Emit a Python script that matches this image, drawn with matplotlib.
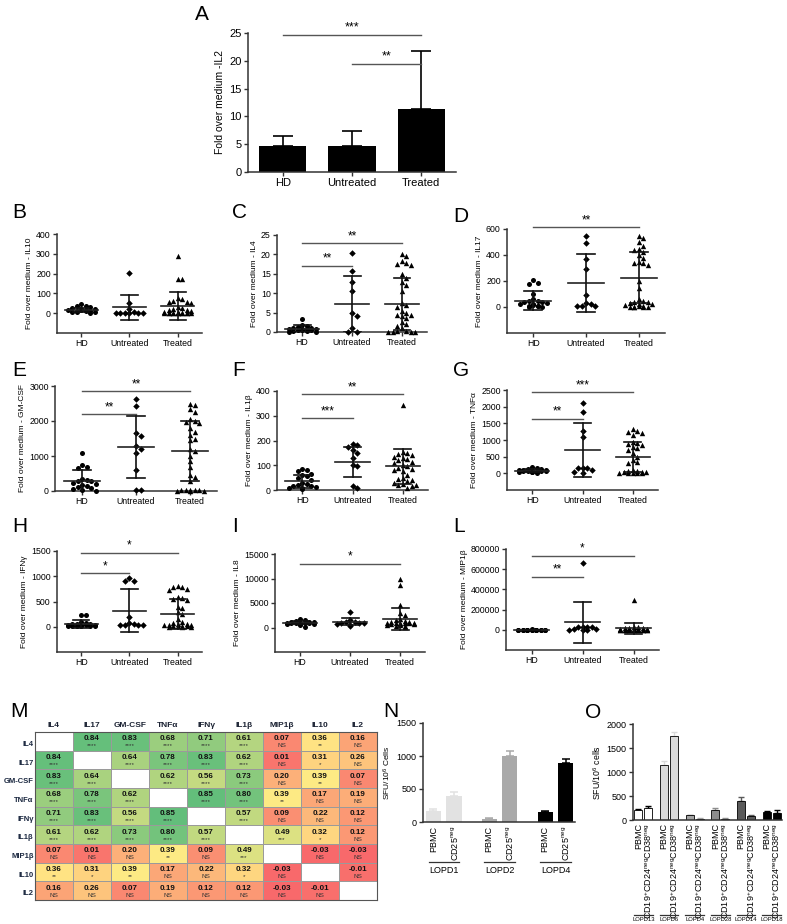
import numpy as np
import matplotlib
matplotlib.use('Agg')
import matplotlib.pyplot as plt
import matplotlib.transforms as mtransforms
from matplotlib.colors import LinearSegmentedColormap, TwoSlopeNorm

plt.rcParams['font.family'] = ['Liberation Sans', 'DejaVu Sans']
plt.rcParams['mathtext.fontset'] = 'custom'
plt.rcParams['mathtext.rm'] = 'Liberation Sans'
plt.rcParams['mathtext.it'] = 'Liberation Sans:italic'
plt.rcParams['mathtext.bf'] = 'Liberation Sans:bold'

W, H = 787, 924
groups = ['HD', 'Untreated', 'Treated']

# ---------------------------------------------------------------- A: IL2 bars
il2_mean = [4.7, 4.7, 11.3]
il2_sd = [1.8, 2.7, 10.5]
il2_brackets = [(0, 2, 24.6, '***'), (1, 2, 19.4, '**')]

# ---------------------------------------------------------------- B..L: dot plots
il10_hd = [48, 38, 35, 30, 25, 22, 20, 18, 15, 15, 12, 10, 10, 8, 5, 5, 2]
il10_untr = [203, 50, 20, 5, 2, 0, 0, 0, 0, 0]
il10_tr = [290, 175, 172, 75, 70, 62, 58, 55, 50, 30, 25, 20, 18, 15, 10, 8, 5, 3, 2, 0, 0, 0, 0, 0, 0, 0, 0, 0, 0]
il10_mean = [14, 30, 37]
il10_sd = [10, 62, 70]
il10_brackets = []

il4_hd = [3.4, 1.8, 1.5, 1.3, 1.1, 1.0, 0.9, 0.9, 0.8, 0.7, 0.6, 0.5, 0.4, 0.3, 0.2, 0.1, 0.1]
il4_untr = [20.4, 15.8, 13.0, 10.5, 5.0, 4.2, 1.1, 0.1, 0.1]
il4_tr = [20.0, 19.5, 18.4, 17.8, 17.5, 17.3, 15.0, 14.0, 13.0, 12.0, 10.5, 7.5, 7.0, 6.5, 5.5, 5.0,
          4.5, 4.5, 4.0, 3.5, 2.5, 2.0, 1.5, 1.0, 0.3, 0.2, 0.1, 0.1, 0.1, 0.0]
il4_mean = [0.9, 7.3, 7.2]
il4_sd = [0.8, 7.2, 6.8]
il4_brackets = [(0, 1, 17.1, '**'), (0, 2, 22.9, '**')]

il17_hd = [205, 185, 175, 100, 60, 50, 45, 40, 35, 30, 25, 20, 15, 10, 8, 5, 3, 0]
il17_untr = [545, 490, 370, 295, 90, 30, 20, 5, 5, 5]
il17_tr = [545, 530, 500, 470, 450, 440, 420, 400, 380, 345, 340, 335, 320, 200, 150, 60, 50, 40, 35,
           30, 25, 20, 15, 10, 5, 0, 0, 0, 0, 0]
il17_mean = [48, 185, 225]
il17_sd = [72, 220, 195]
il17_brackets = [(0, 2, 613, '**')]

gmcsf_hd = [1080, 750, 680, 650, 330, 320, 300, 290, 230, 200, 180, 150, 120, 100, 60, 30, 10]
gmcsf_untr = [2620, 2420, 1660, 1580, 1280, 1200, 1100, 600, 30, 20]
gmcsf_tr = [2500, 2450, 2350, 2250, 2050, 2000, 1980, 1950, 1800, 1700, 1600, 1500, 1450, 1200, 1150,
            1000, 850, 700, 450, 400, 300, 30, 25, 20, 15, 15, 10, 10, 5]
gmcsf_mean = [300, 1250, 1140]
gmcsf_sd = [300, 880, 860]
gmcsf_brackets = [(0, 1, 2200, '**'), (0, 2, 2850, '**')]

il1b_hd = [85, 80, 75, 65, 60, 55, 50, 40, 30, 25, 20, 15, 15, 12, 10, 8, 5]
il1b_untr = [185, 180, 175, 160, 150, 130, 100, 95, 15, 8]
il1b_tr = [345, 155, 150, 145, 140, 135, 130, 125, 120, 115, 110, 100, 95, 90, 85, 80, 75, 60, 50,
           45, 40, 35, 30, 25, 20, 20, 15, 10]
il1b_mean = [35, 112, 95]
il1b_sd = [25, 60, 70]
il1b_brackets = [(0, 1, 291, '***'), (0, 2, 388, '**')]

tnfa_hd = [180, 150, 130, 120, 110, 100, 95, 90, 85, 80, 75, 70, 60, 50, 40, 30, 20]
tnfa_untr = [2120, 1830, 1260, 1100, 170, 160, 150, 110, 30, 20]
tnfa_tr = [1320, 1280, 1250, 1200, 1150, 950, 900, 880, 850, 800, 750, 700, 600, 500, 400, 350, 300,
           100, 80, 60, 50, 40, 30, 20, 10, 10, 5, 5]
tnfa_mean = [80, 690, 500]
tnfa_sd = [40, 810, 450]
tnfa_brackets = [(0, 1, 1635, '**'), (0, 2, 2440, '***')]

ifng_hd = [240, 240, 100, 80, 60, 50, 45, 40, 35, 30, 25, 20, 15, 10, 10, 5, 5]
ifng_untr = [960, 910, 910, 200, 70, 50, 40, 30, 30, 30]
ifng_tr = [800, 790, 780, 750, 720, 580, 560, 550, 520, 400, 380, 300, 250, 150, 100, 80, 60, 50, 40,
           30, 25, 20, 15, 10, 5, 0, 0, -10]
ifng_mean = [55, 315, 245]
ifng_sd = [75, 425, 295]
ifng_brackets = [(0, 1, 1060, '*'), (0, 2, 1465, '*')]

il8_hd = [1700, 1500, 1300, 1200, 1100, 1050, 1000, 1000, 950, 900, 900, 850, 800, 800, 700, 600, 200]
il8_untr = [3100, 1500, 1200, 1100, 1000, 1000, 900, 800, 600, 400]
il8_tr = [10000, 8700, 4500, 3000, 2500, 1800, 1500, 1300, 1200, 1100, 1000, 1000, 950, 900, 900,
          850, 800, 800, 700, 600, 500, 400, 300, 200]
il8_mean = [950, 1150, 1700]
il8_sd = [300, 700, 2300]
il8_brackets = [(0, 2, 13000, '*')]

mip_hd = [3000, 2500, 2000, 1500, 1500, 1000, 1000, 800, 600, 500, 400, 300, 200, 100, 100, 50, 0]
mip_untr = [660000, 30000, 30000, 30000, 25000, 5000, 3000, 2000, 2000, 1000]
mip_tr = [295000, 30000, 25000, 20000, 15000, 15000, 10000, 10000, 5000, 5000, 3000, 2000, 2000, 1000,
          1000, 1000, 500, 500, 500, 0, 0, 0, 0, 0, 0]
mip_mean = [1000, 75000, 15000]
mip_sd = [1000, 205000, 57000]
mip_brackets = [(0, 1, 526000, '**'), (0, 2, 734000, '*')]

# ---------------------------------------------------------------- M: correlation heatmap
cytokines = ['IL4', 'IL17', 'GM-CSF', 'TNF\u03b1', 'IFN\u03b3', 'IL1\u03b2', 'MIP1\u03b2', 'IL10', 'IL2']
corr = [
    [None, 0.84, 0.83, 0.68, 0.71, 0.61, 0.07, 0.36, 0.16],
    [0.84, None, 0.64, 0.78, 0.83, 0.62, 0.01, 0.31, 0.26],
    [0.83, 0.64, None, 0.62, 0.56, 0.73, 0.20, 0.39, 0.07],
    [0.68, 0.78, 0.62, None, 0.85, 0.80, 0.39, 0.17, 0.19],
    [0.71, 0.83, 0.56, 0.85, None, 0.57, 0.09, 0.22, 0.12],
    [0.61, 0.62, 0.73, 0.80, 0.57, None, 0.49, 0.32, 0.12],
    [0.07, 0.01, 0.20, 0.39, 0.09, 0.49, None, -0.03, -0.03],
    [0.36, 0.31, 0.39, 0.17, 0.22, 0.32, -0.03, None, -0.01],
    [0.16, 0.26, 0.07, 0.19, 0.12, 0.12, -0.03, -0.01, None],
]
signif = [
    ['', '****', '****', '****', '****', '****', 'NS', '**', 'NS'],
    ['****', '', '****', '****', '****', '****', 'NS', '*', 'NS'],
    ['****', '****', '', '****', '****', '****', 'NS', '**', 'NS'],
    ['****', '****', '****', '', '****', '****', '**', 'NS', 'NS'],
    ['****', '****', '****', '****', '', '****', 'NS', 'NS', 'NS'],
    ['****', '****', '****', '****', '****', '', '***', '*', 'NS'],
    ['NS', 'NS', 'NS', '**', 'NS', '***', '', 'NS', 'NS'],
    ['**', '*', '**', 'NS', 'NS', '*', 'NS', '', 'NS'],
    ['NS', 'NS', 'NS', 'NS', 'NS', 'NS', 'NS', 'NS', ''],
]

# ---------------------------------------------------------------- N, O: ELISpot bars
n_patients = ['LOPD1', 'LOPD2', 'LOPD4']
n_pbmc = [170, 50, 155]
n_pbmc_err = [22, 15, 8]
n_cd25 = [390, 1005, 890]
n_cd25_err = [70, 75, 60]
n_colors = ['#e2e2e2', '#a9a9a9', '#000000']

o_patients = ['LOPD13', 'LOPD6', 'LOPD4', 'LOPD28', 'LOPD14', 'LOPD18']
o_pbmc = [215, 1140, 100, 210, 390, 175]
o_pbmc_err = [20, 80, 10, 40, 80, 5]
o_cd19 = [245, 1740, 30, 30, 90, 150]
o_cd19_err = [55, 100, 10, 15, 20, 50]
o_colors = ['#ffffff', '#d9d9d9', '#a3a3a3', '#8c8c8c', '#5a5a5a', '#000000']


# ----------------------------------------------------------------------------------------------------------------------
def box(l, t, r, b):
    return [l / W, 1 - b / H, (r - l) / W, (b - t) / H]


def letter(fig, x, y, s):
    fig.text(x / W, 1 - y / H, s, fontsize=15, ha='left', va='top')


def style_axes(ax, fs=6.5):
    for sp in ['top', 'right']:
        ax.spines[sp].set_visible(False)
    for sp in ['left', 'bottom']:
        ax.spines[sp].set_linewidth(1.1)
        ax.spines[sp].set_color('#333333')
    ax.tick_params(axis='both', direction='out', length=3, width=1, labelsize=fs, pad=1.5, color='#333333')


def swarm(vals, yscale, xscale, diam=5.0, maxoff=17.0):
    vals = np.asarray(vals, dtype=float)
    cands = [0.0]
    k = 1
    while k * diam * 0.9 <= maxoff:
        cands += [k * diam * 0.9, -k * diam * 0.9]
        k += 1
    placed = []
    xs = np.zeros(len(vals))
    for idx in np.argsort(-vals, kind='stable'):
        y = vals[idx] * yscale
        pos, best_cnt = None, None
        for c in cands:
            cnt = sum(1 for (px, py) in placed if abs(px - c) < diam * 0.9 and abs(py - y) < diam)
            if cnt == 0:
                pos = c
                break
            if best_cnt is None or cnt < best_cnt:
                best_cnt, pos = cnt, c
        placed.append((pos, y))
        xs[idx] = pos / xscale
    return xs


def brackets(ax, items, ylim, fs=9):
    off = (ylim[1] - ylim[0]) * 0.01
    for i, j, y, lab in items:
        ax.plot([i, j], [y, y], color='#555555', lw=1.0, clip_on=False, zorder=2)
        ax.text((i + j) / 2, y + off, lab, ha='center', va='bottom', fontsize=fs, clip_on=False)


def dot_panel(ax, rect, data, means, sds, ylim, yticks, ylabel, brk):
    markers = ['o', 'D', '^']
    sizes = [13, 11, 15]
    ax_w = rect[2] * W
    ax_h = rect[3] * H
    xscale = ax_w / 3.0
    yscale = ax_h / (ylim[1] - ylim[0])
    for i, vals in enumerate(data):
        xs = swarm(vals, yscale, xscale)
        ax.scatter(i + xs, vals, marker=markers[i], s=sizes[i], c='black', linewidths=0, zorder=3,
                   clip_on=False)
        m, s = means[i], sds[i]
        ax.plot([i - 0.34, i + 0.34], [m, m], color='#222222', lw=1.2, zorder=4)
        ax.plot([i, i], [max(m - s, ylim[0]), m + s], color='#111111', lw=1.2, zorder=4)
        ax.plot([i - 0.17, i + 0.17], [m + s, m + s], color='#111111', lw=1.2, zorder=4)
        if m - s > ylim[0]:
            ax.plot([i - 0.17, i + 0.17], [m - s, m - s], color='#111111', lw=1.2, zorder=4)
    ax.set_xlim(-0.5, 2.5)
    ax.set_ylim(*ylim)
    ax.set_yticks(yticks)
    ax.set_xticks([0, 1, 2])
    ax.set_xticklabels(groups)
    ax.set_ylabel(ylabel, fontsize=6, labelpad=2)
    style_axes(ax, 6.3)
    brackets(ax, brk, ylim, fs=8.5)


# ----------------------------------------------------------------------------------------------------------------------
fig = plt.figure(figsize=(W / 100, H / 100), dpi=100)

# A
rect = box(248, 33, 456, 172)
ax = fig.add_axes(rect)
x = np.arange(3)
ax.bar(x, il2_mean, width=0.68, color='black', zorder=2)
ax.errorbar(x, il2_mean, yerr=[np.zeros(3), il2_sd], fmt='none', ecolor='black', elinewidth=1.2,
            capsize=7, capthick=1.2, zorder=1)
ax.set_xlim(-0.5, 2.5)
ax.set_ylim(0, 25)
ax.set_yticks([0, 5, 10, 15, 20, 25])
ax.set_xticks(x)
ax.set_xticklabels(groups)
ax.set_ylabel('Fold over medium -IL2', fontsize=7.5, labelpad=3)
style_axes(ax, 8)
brackets(ax, il2_brackets, (0, 25), fs=9)
letter(fig, 195, 5, 'A')

# B..L
dot_specs = [
    ('B', (12, 203), (57, 234, 202, 333), [il10_hd, il10_untr, il10_tr], il10_mean, il10_sd,
     (-100, 400), [0, 100, 200, 300, 400], 'Fold over medium - IL10', il10_brackets),
    ('C', (232, 203), (277, 235, 427, 332), [il4_hd, il4_untr, il4_tr], il4_mean, il4_sd,
     (0, 25), [0, 5, 10, 15, 20, 25], 'Fold over medium - IL4', il4_brackets),
    ('D', (453, 207), (507, 229, 665, 333), [il17_hd, il17_untr, il17_tr], il17_mean, il17_sd,
     (-200, 600), [0, 200, 400, 600], 'Fold over medium - IL17', il17_brackets),
    ('E', (12, 361), (55, 386, 217, 491), [gmcsf_hd, gmcsf_untr, gmcsf_tr], gmcsf_mean, gmcsf_sd,
     (0, 3000), [0, 1000, 2000, 3000], 'Fold over medium - GM-CSF', gmcsf_brackets),
    ('F', (232, 361), (277, 391, 428, 490), [il1b_hd, il1b_untr, il1b_tr], il1b_mean, il1b_sd,
     (0, 400), [0, 100, 200, 300, 400], 'Fold over medium - IL1\u03b2', il1b_brackets),
    ('G', (453, 361), (507, 390, 658, 490), [tnfa_hd, tnfa_untr, tnfa_tr], tnfa_mean, tnfa_sd,
     (-500, 2500), [0, 500, 1000, 1500, 2000, 2500], 'Fold over medium - TNF\u03b1', tnfa_brackets),
    ('H', (12, 517), (57, 551, 202, 652), [ifng_hd, ifng_untr, ifng_tr], ifng_mean, ifng_sd,
     (-500, 1500), [0, 500, 1000, 1500], 'Fold over medium - IFN\u03b3', ifng_brackets),
    ('I', (232, 517), (275, 554, 425, 652), [il8_hd, il8_untr, il8_tr], il8_mean, il8_sd,
     (-5000, 15000), [0, 5000, 10000, 15000], 'Fold over medium - IL8', il8_brackets),
    ('L', (453, 517), (506, 549, 659, 650), [mip_hd, mip_untr, mip_tr], mip_mean, mip_sd,
     (-200000, 800000), [0, 200000, 400000, 600000, 800000], 'Fold over medium - MIP1\u03b2', mip_brackets),
]
for lab, lpos, px, data, means, sds, ylim, yticks, ylabel, brk in dot_specs:
    rect = box(*px)
    ax = fig.add_axes(rect)
    dot_panel(ax, rect, data, means, sds, ylim, yticks, ylabel, brk)
    letter(fig, lpos[0], lpos[1], lab)

# M heatmap
ax = fig.add_axes(box(35, 732, 377, 900))
vals = np.array([[np.nan if v is None else v for v in row] for row in corr])
cmap = LinearSegmentedColormap.from_list('ryg', ['#F8696B', '#FFEB84', '#63BE7B'])
cmap.set_bad('white')
norm = TwoSlopeNorm(vmin=-0.03, vcenter=0.385, vmax=0.85)
ax.pcolormesh(np.ma.masked_invalid(vals), cmap=cmap, norm=norm, edgecolors='#9a9a9a', linewidth=0.6)
ax.set_xlim(0, 9)
ax.set_ylim(9, 0)
for r in range(9):
    for c in range(9):
        if corr[r][c] is None:
            continue
        ax.text(c + 0.5, r + 0.36, f'{corr[r][c]:.2f}', ha='center', va='center', fontsize=5.8,
                fontweight='bold', color='#111111')
        ax.text(c + 0.5, r + 0.74, signif[r][c], ha='center', va='center', fontsize=4.6, color='#333333')
ax.set_xticks(np.arange(9) + 0.5)
ax.set_xticklabels(cytokines, fontsize=6, fontweight='bold', color='#1b2233')
ax.xaxis.tick_top()
ax.set_yticks(np.arange(9) + 0.62)
ax.set_yticklabels(cytokines, fontsize=5.5, fontweight='bold', color='#1b2840')
ax.tick_params(axis='x', length=0, pad=2)
ax.tick_params(axis='y', length=0, pad=1)
for sp in ax.spines.values():
    sp.set_color('#555555')
    sp.set_linewidth(0.8)
letter(fig, 10, 702, 'M')

# N
ax = fig.add_axes(box(423, 723, 575, 822))
g = np.arange(3)
ax.bar(g - 0.185, n_pbmc, width=0.27, color=n_colors, zorder=2)
ax.bar(g + 0.185, n_cd25, width=0.27, color=n_colors, zorder=2)
for i in range(3):
    ax.errorbar([g[i] - 0.185], [n_pbmc[i]], yerr=[[0], [n_pbmc_err[i]]], fmt='none', ecolor=n_colors[i],
                elinewidth=1.1, capsize=3, capthick=1.1, zorder=1)
    ax.errorbar([g[i] + 0.185], [n_cd25[i]], yerr=[[0], [n_cd25_err[i]]], fmt='none', ecolor=n_colors[i],
                elinewidth=1.1, capsize=3, capthick=1.1, zorder=1)
ax.set_xlim(-0.37, 2.35)
ax.set_ylim(0, 1500)
ax.set_yticks([0, 500, 1000, 1500])
ax.set_xticks(np.concatenate([g - 0.185, g + 0.185]))
ax.set_xticklabels(['PBMC'] * 3 + [r'CD25$^{\rm neg}$'] * 3, rotation=90, fontsize=6.8)
ax.set_ylabel(r'SFU/10$^{6}$ Cells', fontsize=6, labelpad=3)
style_axes(ax, 6.5)
ax.tick_params(axis='x', length=0, pad=3)
trans = mtransforms.blended_transform_factory(ax.transData, ax.transAxes)
for i, p in enumerate(n_patients):
    ax.plot([g[i] - 0.27, g[i] + 0.27], [-0.40, -0.40], color='#333333', lw=0.9, transform=trans, clip_on=False)
    ax.text(g[i], -0.44, p, transform=trans, ha='center', va='top', fontsize=6.5)
letter(fig, 383, 702, 'N')

# O
ax = fig.add_axes(box(633, 724, 782, 820))
g = np.arange(6)
ax.bar(g - 0.19, o_pbmc, width=0.31, color=o_colors, edgecolor='black', linewidth=0.6, zorder=2)
ax.bar(g + 0.19, o_cd19, width=0.31, color=o_colors, edgecolor='black', linewidth=0.6, zorder=2)
for i in range(6):
    ec = 'black' if o_colors[i] == '#ffffff' else o_colors[i]
    ax.errorbar([g[i] - 0.19], [o_pbmc[i]], yerr=[[0], [o_pbmc_err[i]]], fmt='none', ecolor=ec,
                elinewidth=1.0, capsize=2, capthick=1.0, zorder=1)
    ax.errorbar([g[i] + 0.19], [o_cd19[i]], yerr=[[0], [o_cd19_err[i]]], fmt='none', ecolor=ec,
                elinewidth=1.0, capsize=2, capthick=1.0, zorder=1)
ax.set_xlim(-0.4, 5.4)
ax.set_ylim(0, 2000)
ax.set_yticks([0, 500, 1000, 1500, 2000])
ax.set_xticks(np.concatenate([g - 0.19, g + 0.19]))
ax.set_xticklabels(['PBMC'] * 6 + [r'CD19$^{+}$CD24$^{\rm neg}$CD38$^{\rm neg}$'] * 6, rotation=90,
                   fontsize=4.8)
ax.set_ylabel(r'SFU/10$^{6}$ cells', fontsize=6.3, labelpad=3)
style_axes(ax, 6.5)
ax.tick_params(axis='x', length=0, pad=2)
trans = mtransforms.blended_transform_factory(ax.transData, ax.transAxes)
for i, p in enumerate(o_patients):
    ax.plot([g[i] - 0.36, g[i] + 0.36], [-0.99, -0.99], color='#333333', lw=0.9, transform=trans, clip_on=False)
    ax.text(g[i], -1.015, p, transform=trans, ha='center', va='top', fontsize=4.2)
letter(fig, 585, 703, 'O')

fig.savefig('out.png', dpi=100)
